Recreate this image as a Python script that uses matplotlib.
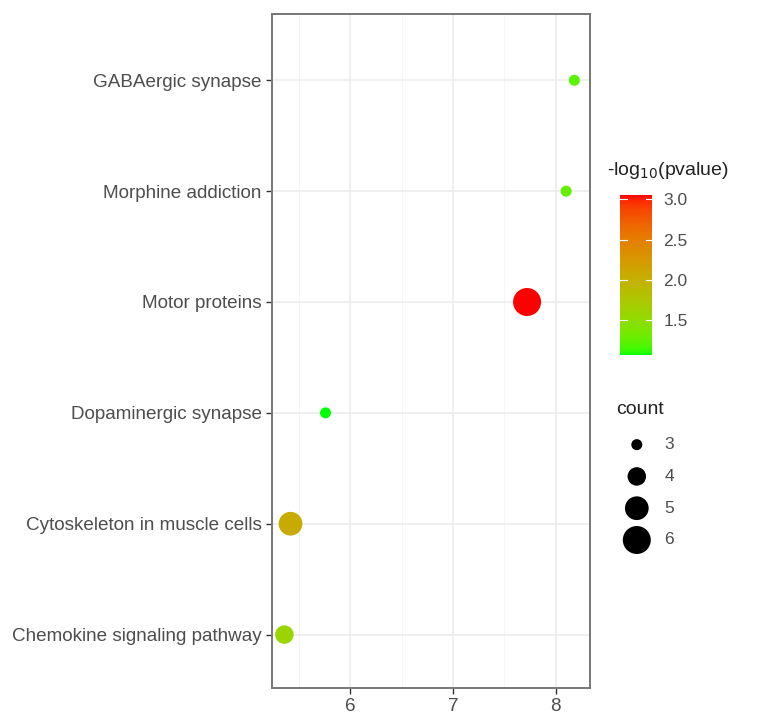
import matplotlib.pyplot as plt
import matplotlib as mpl
import numpy as np
from matplotlib.colors import ListedColormap, Normalize

plt.rcParams['font.family'] = ['Liberation Sans', 'DejaVu Sans']

pathways = ['Chemokine signaling pathway', 'Cytoskeleton in muscle cells',
            'Dopaminergic synapse', 'Motor proteins',
            'Morphine addiction', 'GABAergic synapse']
enrich = [5.36, 5.42, 5.76, 7.72, 8.10, 8.18]
logp = [1.58, 2.05, 1.06, 3.05, 1.25, 1.22]
counts = [4, 5, 3, 6, 3, 3]
size_breaks = [3, 4, 5, 6]
color_breaks = [1.5, 2.0, 2.5, 3.0]


# ggplot-like green -> red gradient, interpolated in Lab space
def srgb_to_lab(rgb):
    rgb = np.asarray(rgb, float)
    lin = np.where(rgb <= 0.04045, rgb / 12.92, ((rgb + 0.055) / 1.055) ** 2.4)
    m = np.array([[0.4124, 0.3576, 0.1805],
                  [0.2126, 0.7152, 0.0722],
                  [0.0193, 0.1192, 0.9505]])
    xyz = m @ lin / np.array([0.95047, 1.0, 1.08883])
    f = np.where(xyz > 0.008856, np.cbrt(xyz), 7.787 * xyz + 16 / 116)
    return np.array([116 * f[1] - 16, 500 * (f[0] - f[1]), 200 * (f[1] - f[2])])


def lab_to_srgb(lab):
    L, a, b = lab
    fy = (L + 16) / 116
    fx = fy + a / 500
    fz = fy - b / 200
    f = np.array([fx, fy, fz])
    xyz = np.where(f ** 3 > 0.008856, f ** 3, (f - 16 / 116) / 7.787)
    xyz = xyz * np.array([0.95047, 1.0, 1.08883])
    m = np.array([[3.2406, -1.5372, -0.4986],
                  [-0.9689, 1.8758, 0.0415],
                  [0.0557, -0.2040, 1.0570]])
    lin = m @ xyz
    lin = np.clip(lin, 0, 1)
    rgb = np.where(lin <= 0.0031308, 12.92 * lin, 1.055 * lin ** (1 / 2.4) - 0.055)
    return np.clip(rgb, 0, 1)


lab_lo = srgb_to_lab([0, 1, 0])
lab_hi = srgb_to_lab([1, 0, 0])
cols = [lab_to_srgb(lab_lo + t * (lab_hi - lab_lo)) for t in np.linspace(0, 1, 256)]
cmap = ListedColormap(cols)
norm = Normalize(vmin=min(logp), vmax=max(logp))


def size_of(c):
    return 63 + (np.asarray(c) - 3) * (406 - 63) / 3


fig = plt.figure(figsize=(7.62, 7.24), dpi=100)
ax = fig.add_axes([0.357, 0.050, 0.417, 0.931])

ypos = np.arange(1, len(pathways) + 1)
ax.scatter(enrich, ypos, s=size_of(counts), c=logp, cmap=cmap, norm=norm,
           zorder=3, edgecolors='none')

ax.set_xlim(5.24, 8.33)
ax.set_ylim(0.52, 6.6)
ax.set_yticks(ypos)
ax.set_yticklabels(pathways)
ax.set_xticks([6, 7, 8])
ax.set_xticks([5.5, 6.5, 7.5], minor=True)
ax.grid(which='major', color='#EBEBEB', linewidth=1.1)
ax.grid(which='minor', axis='x', color='#F4F4F4', linewidth=0.6)
ax.set_axisbelow(True)
ax.tick_params(axis='both', which='major', labelsize=13.6, labelcolor='#4D4D4D',
               color='#333333', length=4, width=1)
ax.tick_params(axis='x', which='minor', length=0)
for sp in ax.spines.values():
    sp.set_color('#777777')
    sp.set_linewidth(1.4)

# colour legend
cax = fig.add_axes([0.814, 0.510, 0.042, 0.220])
cb = mpl.colorbar.ColorbarBase(cax, cmap=cmap, norm=norm, ticks=color_breaks)
cb.outline.set_visible(False)
cax.tick_params(labelsize=12.5, labelcolor='#4D4D4D', length=0, pad=8)
for v in color_breaks:
    cax.plot([0, 0.2], [v, v], color='white', lw=0.8)
    cax.plot([0.8, 1.0], [v, v], color='white', lw=0.8)
cax.set_xlim(0, 1)
fig.text(0.797, 0.765, '-log$_{10}$(pvalue)', fontsize=14, color='#222222',
         va='center', ha='left')

# size legend
lax = fig.add_axes([0.800, 0.230, 0.08, 0.180])
ly = np.arange(len(size_breaks))[::-1]
lax.scatter([0.58] * len(size_breaks), ly, s=size_of(size_breaks), color='black',
            edgecolors='none')
for b, yy in zip(size_breaks, ly):
    lax.text(1.17, yy, str(b), fontsize=12.5, color='#4D4D4D', va='center', ha='left')
lax.set_xlim(0, 1.3)
lax.set_ylim(-0.55, 3.55)
lax.axis('off')
fig.text(0.809, 0.435, 'count', fontsize=14, color='#222222', va='center', ha='left')

fig.savefig('out.png', dpi=100)
